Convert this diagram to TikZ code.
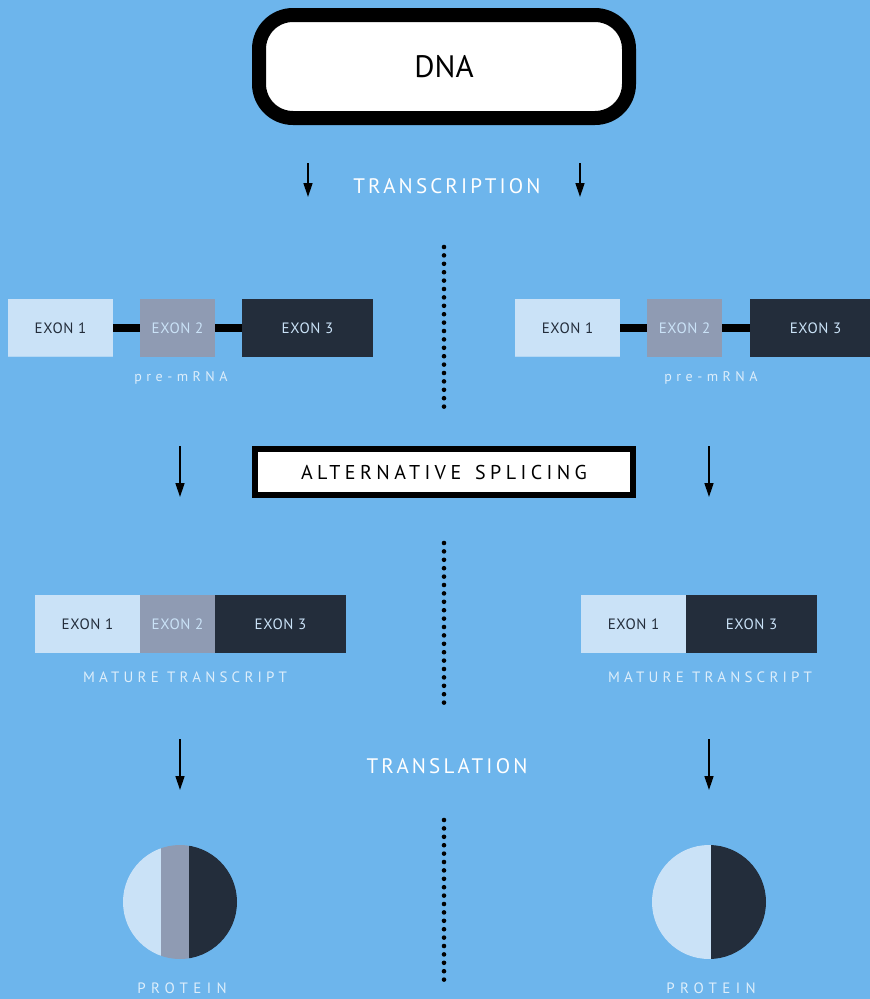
\documentclass[tikz,border=0pt]{standalone}
\usepackage{fontspec}
\setmainfont{PT Sans}
\usetikzlibrary{arrows.meta}
\definecolor{bg}{HTML}{6DB5EC}
\definecolor{exa}{HTML}{CAE2F7}
\definecolor{exb}{HTML}{8F9BB3}
\definecolor{exc}{HTML}{232D3B}
\definecolor{lbl}{HTML}{DDEEFB}
\newcommand\sptext[3]{{\fontsize{#1}{#1}\selectfont\addfontfeature{LetterSpace=#2}#3}}
\begin{document}
\begin{tikzpicture}[x=1pt,y=-1pt,
  exbox/.style={rectangle,inner sep=0pt,minimum height=58pt,font=\fontsize{15}{15}\selectfont\addfontfeature{LetterSpace=4}},
  exone/.style={exbox,fill=exa,text=exc},
  extwo/.style={exbox,fill=exb,text=exa},
  exthree/.style={exbox,fill=exc,text=exa},
  link/.style={line width=8pt,black},
  arr/.style={line width=1.4pt,black,-{Triangle[width=9pt,length=14pt]}},
  dotline/.style={line width=4.6pt,black,line cap=round,dash pattern=on 0pt off 8.4pt},
  lab/.style={text=lbl,inner sep=0pt},
]
\useasboundingbox (0,0) rectangle (870,999);
\clip (0,0) rectangle (870,999);
\fill[bg] (0,0) rectangle (870,999);

% DNA
\node[draw=black,line width=14pt,fill=white,rounded corners=34pt,minimum width=370pt,minimum height=103pt,inner sep=0pt,font=\fontsize{31}{31}\selectfont] (dna) at (444,66.5) {DNA};

% transcription
\node[lab,text=white] (trans) at (447,186) {\sptext{21}{15}{TRANSCRIPTION}};
\coordinate (ta1) at (308,163); \coordinate (tb1) at (308,197);
\coordinate (ta2) at (580,163); \coordinate (tb2) at (580,197);
\draw[arr] (ta1) -- (tb1);
\draw[arr] (ta2) -- (tb2);

% dotted separators
\draw[dotline] (444,247) -- (444,408);
\draw[dotline] (444,543) -- (444,706);
\draw[dotline] (444,820) -- (444,984);

% pre-mRNA left
\node[exone,minimum width=105pt] (la1) at (60.5,328) {EXON 1};
\node[extwo,minimum width=75pt] (la2) at (177.5,328) {EXON 2};
\node[exthree,minimum width=131pt] (la3) at (307.5,328) {EXON 3};
\draw[link] (la1.east) -- (la2.west);
\draw[link] (la2.east) -- (la3.west);
\draw[line width=1.5pt,color=exa!75!bg] (la1.south west) ++(0,-0.75) -- ++(105,0);
\node[lab] (lpre) at (181,378) {\sptext{14}{32}{pre-mRNA}};

% pre-mRNA right
\node[exone,minimum width=105pt] (ra1) at (567.5,328) {EXON 1};
\node[extwo,minimum width=75pt] (ra2) at (684.5,328) {EXON 2};
\node[exthree,minimum width=131pt] (ra3) at (815.5,328) {EXON 3};
\draw[link] (ra1.east) -- (ra2.west);
\draw[link] (ra2.east) -- (ra3.west);
\draw[line width=1.5pt,color=exa!75!bg] (ra1.south west) ++(0,-0.75) -- ++(105,0);
\node[lab] (rpre) at (711,378) {\sptext{14}{32}{pre-mRNA}};

% alternative splicing
\node[draw=black,line width=6pt,fill=white,minimum width=378pt,minimum height=46pt,inner sep=0pt] (alt) at (444,472) {\sptext{20}{22}{ALTERNATIVE}\hspace{14pt}\sptext{20}{22}{SPLICING}};
\coordinate (sa1) at (180,446); \coordinate (sb1) at (180,497);
\coordinate (sa2) at (709,446); \coordinate (sb2) at (709,497);
\draw[arr] (sa1) -- (sb1);
\draw[arr] (sa2) -- (sb2);

% mature left
\node[exone,minimum width=105pt] (lm1) at (87.5,624) {EXON 1};
\node[extwo,minimum width=75pt] (lm2) at (177.5,624) {EXON 2};
\node[exthree,minimum width=131pt] (lm3) at (280.5,624) {EXON 3};
\node[lab] (lmt) at (185,677) {\sptext{15}{28}{MATURE TRANSCRIPT}};

% mature right
\node[exone,minimum width=105pt] (rm1) at (633.5,624) {EXON 1};
\node[exthree,minimum width=131pt] (rm3) at (751.5,624) {EXON 3};
\node[lab] (rmt) at (710,677) {\sptext{15}{28}{MATURE TRANSCRIPT}};

% translation
\node[lab,text=white] (transl) at (447,766) {\sptext{21}{15}{TRANSLATION}};
\coordinate (la) at (180,739); \coordinate (lb) at (180,790);
\coordinate (ra) at (709,739); \coordinate (rb) at (709,790);
\draw[arr] (la) -- (lb);
\draw[arr] (ra) -- (rb);

% proteins
\begin{scope}
\clip (180,902) circle (57pt);
\fill[exa] (120,840) rectangle (161,965);
\fill[exb] (161,840) rectangle (189,965);
\fill[exc] (189,840) rectangle (240,965);
\end{scope}
\begin{scope}
\clip (709,902) circle (57pt);
\fill[exa] (650,840) rectangle (711,965);
\fill[exc] (711,840) rectangle (770,965);
\end{scope}
\node[lab] (lprot) at (182,988) {\sptext{15}{36}{PROTEIN}};
\node[lab] (rprot) at (711,988) {\sptext{15}{36}{PROTEIN}};
\end{tikzpicture}
\end{document}
